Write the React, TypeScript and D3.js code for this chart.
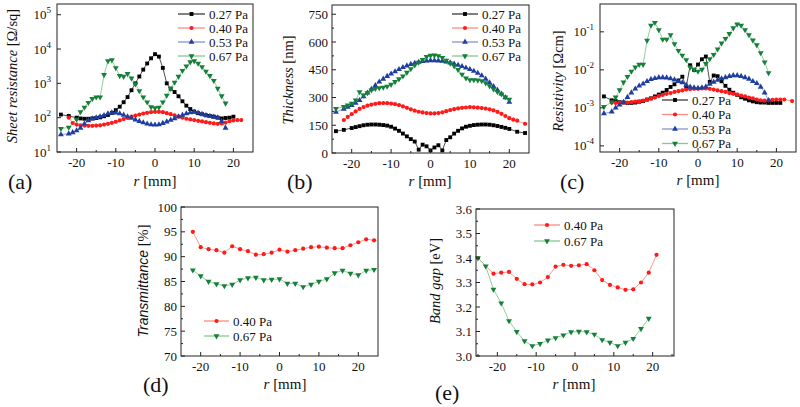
import React from 'react';
import * as d3 from 'd3';

// ---------- (a) Sheet resistance [Ω/sq] ----------
const R_A_027 = [-24,-22,-20,-19,-18,-17,-16,-15,-14,-13,-12,-11,-10,-9,-8,-7,-6,-5,-4,-3,-2,-1,0,1,2,3,4,5,6,7,8,9,10,11,12,13,14,15,16,17,18,19,20];
const A_027 = [123,112,100,95,93,93,95,98,102,110,120,138,166,209,282,398,631,1000,1585,2512,3800,5370,7080,6030,2820,1000,700,560,420,300,224,178,151,135,126,117,112,107,100,95,98,100,107];
const R_A_040 = [-22,-21,-20,-19,-18,-17,-16,-15,-14,-13,-12,-11,-10,-9,-8,-7,-6,-5,-4,-3,-2,-1,0,1,2,3,4,5,6,7,8,9,10,11,12,13,14,15,16,17,18,19,20,21,22];
const A_040 = [100,70,63,60,59,58,58,59,60,63,66,71,76,83,91,98,107,115,123,132,138,145,148,148,145,135,126,117,107,100,93,89,85,81,78,74,71,68,66,68,72,79,83,85,85];
const R_A_053 = [-24,-22,-21,-20,-19,-18,-17,-16,-15,-14,-13,-12,-11,-10,-9,-8,-7,-6,-5,-4,-3,-2,-1,0,1,2,3,4,5,6,7,8,9,10,11,12,13,14,15,16,17,18];
const A_053 = [32,34,37,42,50,66,83,93,100,107,117,132,141,138,132,120,107,98,87,79,72,66,63,62,63,69,76,85,95,107,120,132,141,145,138,126,117,110,105,100,79,50];
const R_A_067 = [-24,-22,-20,-19,-18,-17,-16,-15,-14,-13,-12,-11,-10,-9,-8,-7,-6,-5,-4,-3,-2,-1,0,1,2,3,4,5,6,7,8,9,10,11,12,13,14,15,16,17,18];
const A_067 = [48,52,89,148,200,275,355,398,398,1780,4470,4790,2820,1660,1585,1900,1410,955,603,398,282,204,191,200,282,447,708,1070,1585,2340,3160,4170,4470,3800,3020,2240,1660,1200,708,427,263];

// ---------- (b) Thickness [nm] ----------
const R_B_027 = [-24,-22,-20,-19,-18,-17,-16,-15,-14,-13,-12,-11,-10,-9,-8,-7,-6,-5,-4,-3,-2,-1,0,1,2,3,4,5,6,7,8,9,10,11,12,13,14,15,16,17,18,19,20,22,24];
const B_027 = [118,125,135,140,145,150,153,154,154,153,151,148,142,132,120,105,90,75,62,18,45,36,14,30,42,14,70,85,105,120,133,142,147,151,153,154,154,153,150,146,141,136,130,115,108];
const R_B_040 = [-22,-21,-20,-19,-18,-17,-16,-15,-14,-13,-12,-11,-10,-9,-8,-7,-6,-5,-4,-3,-2,-1,0,1,2,3,4,5,6,7,8,9,10,11,12,13,14,15,16,17,18,19,20,21,22,24];
const B_040 = [178,195,210,225,238,248,256,262,266,269,270,269,267,264,259,252,244,236,229,223,219,216,214,214,216,220,226,232,237,241,244,246,248,247,245,243,240,236,230,222,212,200,188,180,175,158];
const R_B_053 = [-24,-22,-21,-20,-19,-18,-17,-16,-15,-14,-13,-12,-11,-10,-9,-8,-7,-6,-5,-4,-3,-2,-1,0,1,2,3,4,5,6,7,8,9,10,11,12,13,14,15,16,17,18,19,20];
const B_053 = [222,238,248,258,270,285,305,325,345,365,385,400,415,428,440,452,463,472,480,486,491,495,498,500,500,499,497,493,488,482,475,468,460,452,443,432,418,400,380,360,340,320,300,275];
const R_B_067 = [-24,-22,-21,-20,-19,-18,-17,-16,-15,-14,-13,-12,-11,-10,-9,-8,-7,-6,-5,-4,-3,-2,-1,0,1,2,3,4,5,6,7,8,9,10,11,12,13,14,15,16,17,18,19,20];
const B_067 = [240,250,258,268,285,330,312,325,340,348,352,355,360,370,385,400,415,435,455,475,490,505,520,527,528,525,515,500,485,470,450,425,405,395,395,393,390,378,362,345,330,318,302,290];

// ---------- (c) Resistivity [Ωcm] ----------
const R_C_027 = [-24,-22,-21,-20,-19,-18,-17,-16,-15,-14,-13,-12,-11,-10,-9,-8,-7,-6,-5,-4,-3,-2,-1,0,1,2,3,4,5,6,7,8,9,10,11,12,13,14,15,16,17,18,19,20,21];
const C_027 = [2.0e-3,1.58e-3,1.51e-3,1.41e-3,1.38e-3,1.35e-3,1.35e-3,1.38e-3,1.45e-3,1.51e-3,1.66e-3,1.78e-3,2.0e-3,2.24e-3,2.51e-3,2.95e-3,3.55e-3,4.17e-3,5.25e-3,6.6e-3,3.55e-3,1.32e-2,1.0e-2,1.38e-2,1.9e-2,2.24e-2,4.8e-3,7.1e-3,6.8e-3,5.0e-3,3.8e-3,3.0e-3,2.5e-3,2.2e-3,1.9e-3,1.74e-3,1.58e-3,1.48e-3,1.41e-3,1.38e-3,1.38e-3,1.35e-3,1.35e-3,1.35e-3,1.35e-3];
const R_C_040 = [-22,-21,-20,-19,-18,-17,-16,-15,-14,-13,-12,-11,-10,-9,-8,-7,-6,-5,-4,-3,-2,-1,0,1,2,3,4,5,6,7,8,9,10,11,12,13,14,15,16,17,18,19,20,21,22,24];
const C_040 = [1.38e-3,1.35e-3,1.35e-3,1.38e-3,1.38e-3,1.41e-3,1.45e-3,1.48e-3,1.55e-3,1.62e-3,1.74e-3,1.86e-3,2.04e-3,2.19e-3,2.34e-3,2.45e-3,2.63e-3,2.75e-3,2.88e-3,3.02e-3,3.09e-3,3.16e-3,3.16e-3,3.24e-3,3.24e-3,3.16e-3,3.02e-3,2.88e-3,2.75e-3,2.63e-3,2.45e-3,2.34e-3,2.24e-3,2.09e-3,2.0e-3,1.86e-3,1.78e-3,1.66e-3,1.58e-3,1.55e-3,1.58e-3,1.62e-3,1.66e-3,1.66e-3,1.66e-3,1.51e-3];
const R_C_053 = [-24,-22,-21,-20,-19,-18,-17,-16,-15,-14,-13,-12,-11,-10,-9,-8,-7,-6,-5,-4,-3,-2,-1,0,1,2,3,4,5,6,7,8,9,10,11,12,13,14,15,16,17,18];
const C_053 = [7.1e-4,7.9e-4,1.0e-3,1.2e-3,1.41e-3,1.9e-3,2.5e-3,3.16e-3,3.8e-3,4.27e-3,5.0e-3,5.6e-3,6.0e-3,6.3e-3,6.3e-3,6.2e-3,5.9e-3,5.5e-3,5.0e-3,4.6e-3,4.0e-3,3.55e-3,3.4e-3,3.3e-3,3.4e-3,3.6e-3,4.2e-3,4.8e-3,5.4e-3,5.9e-3,6.3e-3,6.8e-3,7.1e-3,7.1e-3,6.8e-3,6.3e-3,5.75e-3,5.0e-3,4.4e-3,3.55e-3,2.5e-3,1.58e-3];
const R_C_067 = [-24,-22,-21,-20,-19,-18,-17,-16,-15,-14,-13,-12,-11,-10,-9,-8,-7,-6,-5,-4,-3,-2,-1,0,1,2,3,4,5,6,7,8,9,10,11,12,13,14,15,16,17,18];
const C_067 = [1.07e-3,1.41e-3,1.9e-3,2.95e-3,4.7e-3,6.6e-3,9.1e-3,1.17e-2,1.38e-2,1.38e-2,5.9e-2,0.148,0.174,0.112,6.3e-2,6.3e-2,8.3e-2,4.8e-2,3.2e-2,2.4e-2,1.82e-2,1.17e-2,1.02e-2,9.1e-3,1.02e-2,1.45e-2,1.95e-2,2.5e-2,3.5e-2,5.0e-2,6.6e-2,8.9e-2,0.126,0.158,0.148,0.112,8.3e-2,6.0e-2,4.5e-2,2.8e-2,1.6e-2,8.3e-3];

// ---------- (d) Transmittance [%] ----------
const R_D = [-22,-20,-18,-16,-14,-12,-10,-8,-6,-4,-2,0,2,4,6,8,10,12,14,16,18,20,22,24];
const D_040 = [95.0,91.9,91.5,91.3,90.8,92.1,91.5,91.1,90.4,90.5,90.8,91.4,91.0,91.3,91.6,91.9,92.0,91.8,91.7,91.7,92.3,92.9,93.5,93.3];
const D_067 = [87.3,86.1,85.0,84.5,84.1,84.4,85.3,85.7,85.8,85.3,85.4,85.5,84.6,84.6,83.9,84.4,85.0,85.5,86.7,87.2,86.6,86.3,87.2,87.4];

// ---------- (e) Band gap [eV] ----------
const R_E_040 = [-25,-21,-19,-17,-15,-13,-11,-9,-7,-5,-3,-1,1,3,5,7,9,11,13,15,17,19,21];
const E_040 = [3.40,3.336,3.340,3.343,3.315,3.293,3.292,3.300,3.322,3.365,3.372,3.368,3.370,3.375,3.350,3.310,3.290,3.280,3.270,3.272,3.300,3.340,3.413];
const R_E_067 = [-25,-23,-21,-19,-17,-15,-13,-11,-9,-7,-5,-3,-1,1,3,5,7,9,11,13,15,17,19];
const E_067 = [3.40,3.367,3.272,3.216,3.143,3.099,3.061,3.041,3.050,3.064,3.074,3.085,3.098,3.100,3.098,3.088,3.066,3.055,3.041,3.055,3.071,3.111,3.153];

// ---------- axes ticks ----------
const X_TICKS = [-20, -10, 0, 10, 20];
const X_MINOR = [-25, -15, -5, 5, 15, 25];
const A_YTICKS = [1e1, 1e2, 1e3, 1e4, 1e5];
const B_YTICKS = [0, 150, 300, 450, 600, 750];
const B_YMINOR = [75, 225, 375, 525, 675];
const C_YTICKS = [1e-4, 1e-3, 1e-2, 1e-1];
const D_YTICKS = [70, 75, 80, 85, 90, 95, 100];
const D_YMINOR = [72.5, 77.5, 82.5, 87.5, 92.5, 97.5];
const E_YTICKS = [3.0, 3.1, 3.2, 3.3, 3.4, 3.5, 3.6];
const E_YMINOR = [3.05, 3.15, 3.25, 3.35, 3.45, 3.55];

const SERIF = '"Liberation Serif", "Times New Roman", serif';
const SANS = '"Liberation Sans", Arial, sans-serif';

type Sty = { marker: string; fill: string; line: string; label: string };
const S027: Sty = { marker: 'square', fill: '#000000', line: '#3c3c3c', label: '0.27 Pa' };
const S040: Sty = { marker: 'circle', fill: '#ff1a1a', line: '#ff8a80', label: '0.40 Pa' };
const S053: Sty = { marker: 'up', fill: '#1f3f9f', line: '#8a93c8', label: '0.53 Pa' };
const S067: Sty = { marker: 'down', fill: '#15803a', line: '#86c98c', label: '0.67 Pa' };

function Marker({ sty, x, y }: { sty: Sty; x: number; y: number }) {
  const type = sty.marker === 'square' ? d3.symbolSquare : sty.marker === 'circle' ? d3.symbolCircle : d3.symbolTriangle;
  const size = sty.marker === 'square' ? 15 : sty.marker === 'circle' ? 14 : 15;
  const p = d3.symbol().type(type).size(size)() as string;
  const rot = sty.marker === 'down' ? ' rotate(180)' : '';
  return <path d={p} transform={`translate(${x},${y})${rot}`} fill={sty.fill} />;
}

type Series = { xs: number[]; ys: number[]; sty: Sty };

type PanelProps = {
  box: [number, number, number, number];
  xDom: [number, number];
  yLog: boolean;
  yDom: [number, number];
  yTicks: number[];
  yMinor?: number[];
  yFmt?: (v: number) => string;
  series: Series[];
  legend: { x1: number; x2: number; tx: number; ys: number[]; items: Sty[] };
  yTitle: React.ReactNode;
  yTitlePos: [number, number];
  xTitlePos: [number, number];
  tag: string;
  tagPos: [number, number];
};

function Panel(p: PanelProps) {
  const [L, R, T, B] = p.box;
  const x = d3.scaleLinear().domain(p.xDom).range([L, R]);
  const y = p.yLog
    ? d3.scaleLog().domain(p.yDom).range([B, T])
    : d3.scaleLinear().domain(p.yDom).range([B, T]);
  const line = (s: Series) =>
    d3.line<number>().x((_, i) => x(s.xs[i])).y((v) => y(v))(s.ys.slice(0, s.xs.length)) as string;
  return (
    <g>
      {p.series.map((s, k) => (
        <path key={'l' + k} d={line(s)} fill="none" stroke={s.sty.line} strokeWidth={0.9} />
      ))}
      {p.series.map((s, k) => (
        <g key={'m' + k}>
          {s.ys.slice(0, s.xs.length).map((v, i) => (
            <Marker key={i} sty={s.sty} x={x(s.xs[i])} y={y(v)} />
          ))}
        </g>
      ))}
      <rect x={L} y={T} width={R - L} height={B - T} fill="none" stroke="#222" strokeWidth={1} />
      {X_TICKS.map((t) => (
        <g key={'xt' + t}>
          <line x1={x(t)} x2={x(t)} y1={B} y2={B - 4} stroke="#222" />
          <text x={x(t)} y={B + 15} textAnchor="middle" fontFamily={SERIF} fontSize={13} fill="#111">
            {t < 0 ? '-' + Math.abs(t) : String(t)}
          </text>
        </g>
      ))}
      {X_MINOR.filter((t) => t > p.xDom[0] && t < p.xDom[1]).map((t) => (
        <line key={'xm' + t} x1={x(t)} x2={x(t)} y1={B} y2={B - 2} stroke="#222" />
      ))}
      {p.yTicks.map((t) => (
        <g key={'yt' + t}>
          <line x1={L} x2={L + 4} y1={y(t)} y2={y(t)} stroke="#222" />
          {p.yLog ? (
            <text x={L - 6} y={y(t) + 4.5} textAnchor="end" fontFamily={SERIF} fontSize={13} fill="#111">
              10
              <tspan dy={-6} fontSize={9}>
                {String(Math.round(Math.log10(t)))}
              </tspan>
            </text>
          ) : (
            <text x={L - 4} y={y(t) + 4.5} textAnchor="end" fontFamily={SERIF} fontSize={13} fill="#111">
              {p.yFmt ? p.yFmt(t) : String(t)}
            </text>
          )}
        </g>
      ))}
      {(p.yMinor || []).map((t) => (
        <line key={'ym' + t} x1={L} x2={L + 2} y1={y(t)} y2={y(t)} stroke="#222" />
      ))}
      {p.legend.items.map((s, i) => (
        <g key={'lg' + i}>
          <line x1={p.legend.x1} x2={p.legend.x2} y1={p.legend.ys[i]} y2={p.legend.ys[i]} stroke={s.line} strokeWidth={1.3} />
          <Marker sty={s} x={(p.legend.x1 + p.legend.x2) / 2} y={p.legend.ys[i]} />
          <text x={p.legend.tx} y={p.legend.ys[i] + 4.5} fontFamily={SERIF} fontSize={13} fill="#111">
            {s.label}
          </text>
        </g>
      ))}
      <text
        transform={`translate(${p.yTitlePos[0]},${p.yTitlePos[1]}) rotate(-90)`}
        textAnchor="middle"
        fontFamily={SERIF}
        fontSize={14.5}
        fill="#111"
      >
        {p.yTitle}
      </text>
      <text x={p.xTitlePos[0]} y={p.xTitlePos[1]} textAnchor="middle" fontFamily={SERIF} fontSize={15} fill="#111">
        <tspan fontStyle="italic">r</tspan> [mm]
      </text>
      <text x={p.tagPos[0]} y={p.tagPos[1]} fontFamily={SERIF} fontSize={22} fill="#111">
        {p.tag}
      </text>
    </g>
  );
}

export default function App() {
  return (
    <svg
      width={800}
      height={407}
      viewBox="0 0 800 407"
      style={{ position: 'absolute', left: 0, top: 0, background: '#fff' }}
    >
      <rect width={800} height={407} fill="#fff" />
      <Panel
        box={[57, 253, 4, 152]}
        xDom={[-25, 25]}
        yLog
        yDom={[10, 2.05e5]}
        yTicks={A_YTICKS}
        series={[
          { xs: R_A_027, ys: A_027, sty: S027 },
          { xs: R_A_040, ys: A_040, sty: S040 },
          { xs: R_A_053, ys: A_053, sty: S053 },
          { xs: R_A_067, ys: A_067, sty: S067 },
        ]}
        legend={{ x1: 178, x2: 205, tx: 209, ys: [14, 28, 42, 56], items: [S027, S040, S053, S067] }}
        yTitle={<><tspan fontStyle="italic">Sheet resistance</tspan> [Ω/sq]</>}
        yTitlePos={[17, 76]}
        xTitlePos={[155, 186]}
        tag="(a)"
        tagPos={[8, 189]}
      />
      <Panel
        box={[332, 529, 5, 153]}
        xDom={[-25, 25]}
        yLog={false}
        yDom={[0, 800]}
        yTicks={B_YTICKS}
        yMinor={B_YMINOR}
        series={[
          { xs: R_B_027, ys: B_027, sty: S027 },
          { xs: R_B_040, ys: B_040, sty: S040 },
          { xs: R_B_053, ys: B_053, sty: S053 },
          { xs: R_B_067, ys: B_067, sty: S067 },
        ]}
        legend={{ x1: 452, x2: 478, tx: 482, ys: [14, 28, 42, 56], items: [S027, S040, S053, S067] }}
        yTitle={<><tspan fontStyle="italic">Thickness</tspan> [nm]</>}
        yTitlePos={[293, 80]}
        xTitlePos={[430, 186]}
        tag="(b)"
        tagPos={[287, 189]}
      />
      <Panel
        box={[600, 796, 4, 152]}
        xDom={[-25, 25]}
        yLog
        yDom={[6.9e-5, 0.54]}
        yTicks={C_YTICKS}
        series={[
          { xs: R_C_027, ys: C_027, sty: S027 },
          { xs: R_C_040, ys: C_040, sty: S040 },
          { xs: R_C_053, ys: C_053, sty: S053 },
          { xs: R_C_067, ys: C_067, sty: S067 },
        ]}
        legend={{ x1: 662, x2: 688, tx: 692, ys: [100, 114.5, 129, 143.5], items: [S027, S040, S053, S067] }}
        yTitle={<><tspan fontStyle="italic">Resistivity</tspan> [Ωcm]</>}
        yTitlePos={[563, 81]}
        xTitlePos={[698, 185]}
        tag="(c)"
        tagPos={[560, 189]}
      />
      <Panel
        box={[181, 378, 207, 356]}
        xDom={[-25, 25]}
        yLog={false}
        yDom={[70, 100]}
        yTicks={D_YTICKS}
        yMinor={D_YMINOR}
        series={[
          { xs: R_D, ys: D_040, sty: S040 },
          { xs: R_D, ys: D_067, sty: S067 },
        ]}
        legend={{ x1: 204, x2: 229, tx: 233, ys: [321, 336], items: [S040, S067] }}
        yTitle={<><tspan fontStyle="italic" fontFamily={SANS} fontSize={14}>Transmittance</tspan> [%]</>}
        yTitlePos={[148, 281]}
        xTitlePos={[285, 389]}
        tag="(d)"
        tagPos={[143, 392]}
      />
      <Panel
        box={[476, 674, 209, 356]}
        xDom={[-25.5, 25.5]}
        yLog={false}
        yDom={[3.0, 3.6]}
        yTicks={E_YTICKS}
        yMinor={E_YMINOR}
        yFmt={(v) => v.toFixed(1)}
        series={[
          { xs: R_E_040, ys: E_040, sty: S040 },
          { xs: R_E_067, ys: E_067, sty: S067 },
        ]}
        legend={{ x1: 534, x2: 560, tx: 564, ys: [225, 241], items: [S040, S067] }}
        yTitle={<><tspan fontStyle="italic">Band gap</tspan> [eV]</>}
        yTitlePos={[440, 281]}
        xTitlePos={[574, 389]}
        tag="(e)"
        tagPos={[435, 400]}
      />
    </svg>
  );
}
